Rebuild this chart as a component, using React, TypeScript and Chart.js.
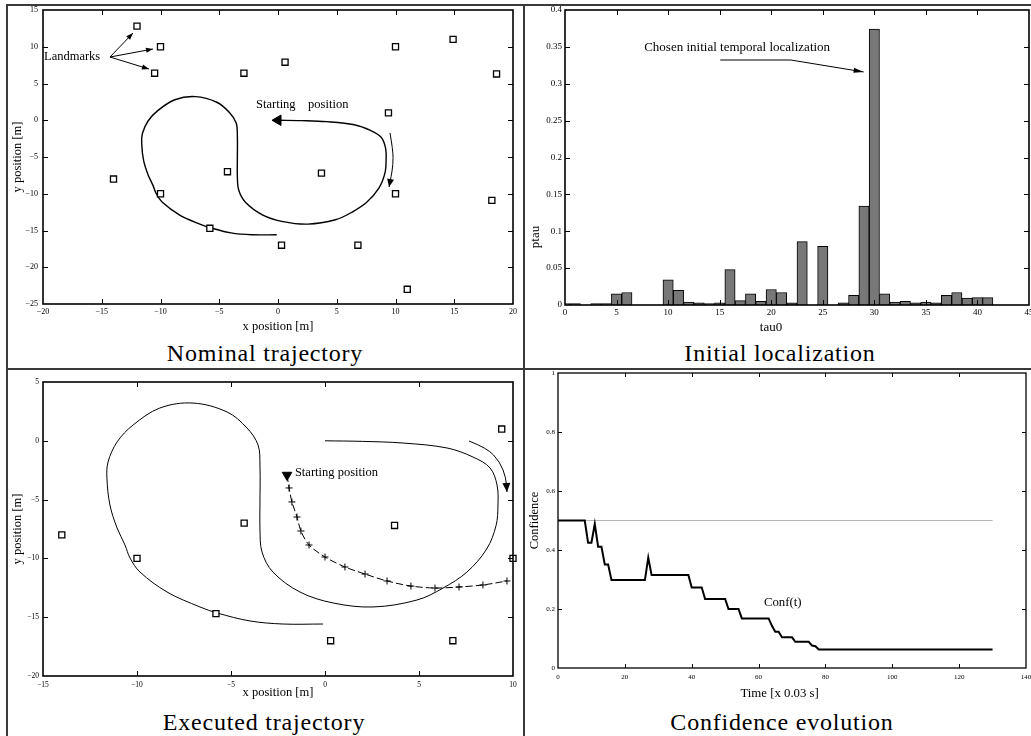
import React, { useEffect, useRef } from 'react';
import { Chart, registerables } from 'chart.js';

Chart.register(...registerables);

const SERIF = '"Liberation Serif", "Times New Roman", serif';

// ---------------- data ----------------
// Landmarks shared by the nominal / executed trajectory plots [m]
const landmarkX = [-12, -10, -10.5, -2.9, 0.6, 10, 14.9, 18.6, 9.4, -14, -10, -4.3, 3.7, 10, 18.2, -5.8, 0.3, 6.8, 11];
const landmarkY = [12.8, 10, 6.4, 6.4, 7.9, 10, 11, 6.3, 1, -8, -10, -7, -7.2, -10, -10.9, -14.7, -17, -17, -23];

// Nominal trajectory [m]
const nominalX = [0, 2, 4.15, 6.49, 7.87, 8.78, 9.15, 9.2, 9.1, 8.6, 7.55, 6.28, 4.89, 2.55, 0.43, -1.33, -2.77, -3.35, -3.46, -3.46, -3.46, -3.56, -4.15, -5.21, -7.02, -8.78, -10.21, -11.06, -11.54, -11.6, -11.44, -11.06, -10.64, -10.37, -9.84, -8.4, -6.65, -5.74, -3.99, -2.23, -0.11];
const nominalY = [0, -0.05, -0.19, -0.61, -1.38, -2.31, -3.76, -5.46, -7.2, -9.2, -11.16, -12.52, -13.54, -14.13, -13.79, -12.86, -11.16, -9.46, -7.5, -5.46, -2.06, -0.36, 1.09, 2.45, 3.21, 2.79, 1.34, -0.1, -1.8, -3.16, -5.46, -7.41, -8.86, -9.97, -11.16, -12.86, -14.13, -14.64, -15.32, -15.58, -15.58];

// Executed trajectory [m] (first point = starting position)
const executedX = [-2.02, -1.91, -1.76, -1.49, -1.28, -0.85, 0, 1.06, 2.13, 3.3, 4.57, 5.85, 7.13, 8.4, 9.68];
const executedY = [-2.91, -4.01, -5.2, -6.48, -7.67, -8.86, -9.88, -10.73, -11.33, -11.92, -12.35, -12.52, -12.43, -12.26, -11.92];

// Initial localization histogram
const tau0 = [0, 1, 2, 3, 4, 5, 6, 7, 8, 9, 10, 11, 12, 13, 14, 15, 16, 17, 18, 19, 20, 21, 22, 23, 24, 25, 26, 27, 28, 29, 30, 31, 32, 33, 34, 35, 36, 37, 38, 39, 40, 41];
const ptau = [0.002, 0.002, 0, 0.002, 0.002, 0.015, 0.017, 0, 0, 0, 0.034, 0.02, 0.004, 0.003, 0.002, 0.003, 0.048, 0.006, 0.015, 0.005, 0.021, 0.017, 0.003, 0.086, 0, 0.0795, 0, 0.003, 0.013, 0.134, 0.374, 0.0153, 0.004, 0.005, 0.003, 0.004, 0.003, 0.013, 0.017, 0.0095, 0.01, 0.01];

// Confidence evolution
const confTime = [0, 8, 9, 10, 11, 12, 13, 14, 15, 16, 26, 27, 28, 39, 40, 43, 44, 50, 51, 54, 55, 63, 64, 65, 66, 67, 70, 71, 75, 76, 77, 78, 130];
const confValue = [0.5, 0.5, 0.425, 0.425, 0.488, 0.411, 0.411, 0.351, 0.351, 0.298, 0.298, 0.374, 0.315, 0.315, 0.273, 0.273, 0.234, 0.234, 0.2, 0.2, 0.168, 0.168, 0.143, 0.123, 0.123, 0.104, 0.104, 0.089, 0.089, 0.076, 0.074, 0.063, 0.063];
const thresholdTime = [0, 130];
const thresholdValue = [0.5, 0.5];

// ---------------- helpers ----------------
type Pt = [number, number];
const pts = (xs: number[], ys: number[]) => xs.map((x, i) => ({ x, y: ys[i] }));
const minus = (v: any) => {
  const n = Number(v);
  return n < 0 ? '\u2212' + Math.abs(n) : String(n);
};
const dec = (v: any) => String(Math.round(Number(v) * 1000) / 1000);

function smoothPath(ctx: CanvasRenderingContext2D, p: Pt[]) {
  ctx.beginPath();
  ctx.moveTo(p[0][0], p[0][1]);
  for (let i = 1; i < p.length - 1; i++) {
    const mx = (p[i][0] + p[i + 1][0]) / 2;
    const my = (p[i][1] + p[i + 1][1]) / 2;
    ctx.quadraticCurveTo(p[i][0], p[i][1], mx, my);
  }
  const l = p[p.length - 1];
  ctx.lineTo(l[0], l[1]);
  ctx.stroke();
}

function arrowHead(ctx: CanvasRenderingContext2D, from: Pt, to: Pt, len: number, half: number) {
  const a = Math.atan2(to[1] - from[1], to[0] - from[0]);
  const bx = to[0] - len * Math.cos(a);
  const by = to[1] - len * Math.sin(a);
  const nx = -Math.sin(a) * half;
  const ny = Math.cos(a) * half;
  ctx.beginPath();
  ctx.moveTo(to[0], to[1]);
  ctx.lineTo(bx + nx, by + ny);
  ctx.lineTo(bx - nx, by - ny);
  ctx.closePath();
  ctx.fill();
}

const framePlugin = (tickLen: number, lw: number) => ({
  id: 'frameTicks',
  afterDatasetsDraw(chart: any) {
    const { ctx, chartArea: a } = chart;
    const xs = chart.scales.x;
    const ys = chart.scales.y;
    ctx.save();
    ctx.strokeStyle = '#000';
    ctx.lineWidth = 1;
    ctx.beginPath();
    for (const t of xs.ticks) {
      const p = Math.round(xs.getPixelForValue(t.value)) + 0.5;
      if (p < a.left + 2 || p > a.right - 2) continue;
      ctx.moveTo(p, a.bottom);
      ctx.lineTo(p, a.bottom - tickLen);
      ctx.moveTo(p, a.top);
      ctx.lineTo(p, a.top + tickLen);
    }
    for (const t of ys.ticks) {
      const p = Math.round(ys.getPixelForValue(t.value)) + 0.5;
      if (p < a.top + 2 || p > a.bottom - 2) continue;
      ctx.moveTo(a.left, p);
      ctx.lineTo(a.left + tickLen, p);
      ctx.moveTo(a.right, p);
      ctx.lineTo(a.right - tickLen, p);
    }
    ctx.stroke();
    ctx.lineWidth = lw;
    ctx.strokeRect(a.left, a.top, a.right - a.left, a.bottom - a.top);
    ctx.restore();
  },
});

const notesPlugin = (size: number, draw: (ctx: CanvasRenderingContext2D, P: (x: number, y: number) => Pt) => void) => ({
  id: 'notes',
  afterDraw(chart: any) {
    const ctx = chart.ctx as CanvasRenderingContext2D;
    const P = (x: number, y: number): Pt => [chart.scales.x.getPixelForValue(x), chart.scales.y.getPixelForValue(y)];
    ctx.save();
    ctx.fillStyle = '#000';
    ctx.strokeStyle = '#000';
    ctx.lineWidth = 1;
    ctx.font = `${size}px ${SERIF}`;
    ctx.textBaseline = 'middle';
    ctx.textAlign = 'left';
    draw(ctx, P);
    ctx.restore();
  },
});

function scale(min: number, max: number, step: number, size: number, pad: number, fmt: any, fit: (s: any) => void, title?: any) {
  const s: any = {
    type: 'linear',
    min,
    max,
    offset: false,
    ticks: { stepSize: step, font: { family: SERIF, size }, color: '#000', padding: pad, callback: fmt, autoSkip: false, maxRotation: 0, minRotation: 0 },
    grid: { display: false, drawTicks: false, offset: false },
    border: { display: false },
    afterFit: fit,
  };
  if (title) s.title = title;
  return s;
}

const baseOptions = (padding: any) => ({
  responsive: false,
  animation: false as const,
  devicePixelRatio: 1,
  events: [] as any[],
  layout: { padding, autoPadding: false },
  plugins: { legend: { display: false }, tooltip: { enabled: false } },
});

const landmarkSets = () => [
  {
    data: pts(landmarkX, landmarkY),
    pointStyle: 'rect',
    pointRadius: 4.3,
    backgroundColor: '#fff',
    borderColor: '#000',
    pointBackgroundColor: '#fff',
    pointBorderColor: '#000',
    pointBorderWidth: 1.3,
    showLine: false,
    clip: 6,
  },
  {
    data: pts(landmarkX, landmarkY),
    pointStyle: 'circle',
    pointRadius: 0.8,
    backgroundColor: '#000',
    borderColor: '#000',
    pointBackgroundColor: '#000',
    pointBorderWidth: 0,
    showLine: false,
    clip: 6,
  },
];

// ---------------- charts ----------------
function makeNominal(el: HTMLCanvasElement) {
  return new Chart(el, {
    type: 'scatter',
    data: {
      datasets: [
        {
          data: [{ x: nominalX[0], y: nominalY[0] }],
          pointStyle: 'triangle',
          pointRotation: 270,
          pointRadius: 6,
          backgroundColor: '#000',
          borderColor: '#000',
          pointBackgroundColor: '#000',
          showLine: false,
          clip: 10,
        } as any,
        ...landmarkSets(),
        {
          data: pts(nominalX, nominalY),
          showLine: true,
          borderColor: '#000',
          borderWidth: 1.4,
          pointRadius: 0,
          tension: 0.35,
          fill: false,
        },
      ],
    },
    options: {
      ...baseOptions({ top: 10, right: 9, left: 0, bottom: 0 }),
      scales: {
        x: scale(-20, 20, 5, 8, 3, minus, (s) => { s.height = 36; s.paddingLeft = 0; s.paddingRight = 0; },
          { display: true, text: 'x position [m]', color: '#000', font: { family: SERIF, size: 12.5 }, padding: { top: 0, bottom: 5.5 } }),
        y: scale(-25, 15, 5, 8, 5, minus, (s) => { s.width = 43; s.paddingTop = 0; s.paddingBottom = 0; },
          { display: true, text: 'y position [m]', color: '#000', font: { family: SERIF, size: 12.5 }, padding: { top: 10.5, bottom: 0 } }),
      },
    } as any,
    plugins: [
      framePlugin(5, 1.6),
      notesPlugin(12.5, (ctx, P) => {
        const lp = P(-20, 8.6);
        ctx.fillText('Landmarks', lp[0] + 1, lp[1]);
        const o = P(-14.3, 8.6);
        const tips: Pt[] = [[-12.34, 11.87], [-10.64, 9.69], [-10.98, 6.97]];
        for (const tp of tips) {
          const t = P(tp[0], tp[1]);
          ctx.beginPath();
          ctx.moveTo(o[0], o[1]);
          ctx.lineTo(t[0], t[1]);
          ctx.stroke();
          arrowHead(ctx, o, t, 7, 2.6);
        }
        const s = P(-1.87, 2.07);
        ctx.fillText('Starting    position', s[0], s[1]);
        const curve = ([[9.53, -1.73], [9.79, -4.05], [9.79, -6.09], [9.62, -7.72], [9.45, -9.08]] as Pt[]).map((p) => P(p[0], p[1]));
        smoothPath(ctx, curve);
        arrowHead(ctx, curve[3], curve[4], 8, 3.5);
      }),
    ],
  });
}

function makeLocalization(el: HTMLCanvasElement) {
  return new Chart(el, {
    type: 'bar',
    data: {
      datasets: [
        {
          data: pts(tau0, ptau),
          backgroundColor: '#787878',
          borderColor: '#000',
          borderWidth: 1,
          barPercentage: 1,
          categoryPercentage: 1,
        } as any,
      ],
    },
    options: {
      ...baseOptions({ top: 10, right: 2, left: 0, bottom: 0 }),
      scales: {
        x: scale(0, 45, 5, 9, 2.5, (v: any) => String(v), (s) => { s.height = 35; s.paddingLeft = 0; s.paddingRight = 0; }),
        y: scale(0, 0.4, 0.05, 9, 3, dec, (s) => { s.width = 43; s.paddingTop = 0; s.paddingBottom = 0; }),
      },
    } as any,
    plugins: [
      framePlugin(5, 1.6),
      notesPlugin(13, (ctx, P) => {
        const t = P(7.68, 0.3485);
        ctx.fillText('Chosen initial temporal localization', t[0], t[1]);
        const line = ([[15.06, 0.3322], [21.9, 0.3322], [28.96, 0.316]] as Pt[]).map((p) => P(p[0], p[1]));
        ctx.beginPath();
        ctx.moveTo(line[0][0], line[0][1]);
        ctx.lineTo(line[1][0], line[1][1]);
        ctx.lineTo(line[2][0], line[2][1]);
        ctx.stroke();
        arrowHead(ctx, line[1], line[2], 10, 2.5);
        ctx.textAlign = 'center';
        ctx.fillText('tau0', 249, 328);
        ctx.save();
        ctx.translate(14, 237);
        ctx.rotate(-Math.PI / 2);
        ctx.fillText('ptau', 0, 0);
        ctx.restore();
      }),
    ],
  });
}

function makeExecuted(el: HTMLCanvasElement) {
  return new Chart(el, {
    type: 'scatter',
    data: {
      datasets: [
        {
          data: [{ x: executedX[0], y: executedY[0] }],
          pointStyle: 'triangle',
          pointRotation: 180,
          pointRadius: 5.5,
          backgroundColor: '#000',
          borderColor: '#000',
          pointBackgroundColor: '#000',
          showLine: false,
          clip: 10,
        } as any,
        ...landmarkSets(),
        {
          data: pts(executedX, executedY),
          showLine: true,
          borderColor: '#000',
          borderWidth: 1,
          borderDash: [7, 3],
          tension: 0.3,
          pointStyle: 'cross',
          pointRadius: (c: any) => (c.dataIndex === 0 ? 0 : 3.5),
          pointBorderColor: '#000',
          pointBorderWidth: 1,
          fill: false,
        },
        {
          data: pts(nominalX, nominalY),
          showLine: true,
          borderColor: '#000',
          borderWidth: 1,
          pointRadius: 0,
          tension: 0.35,
          fill: false,
        },
      ],
    },
    options: {
      ...baseOptions({ top: 13, right: 9, left: 0, bottom: 0 }),
      scales: {
        x: scale(-15, 10, 5, 7.5, 4.5, minus, (s) => { s.height = 33; s.paddingLeft = 0; s.paddingRight = 0; },
          { display: true, text: 'x position [m]', color: '#000', font: { family: SERIF, size: 12.5 }, padding: { top: 0, bottom: 8.5 } }),
        y: scale(-20, 5, 5, 7.5, 4, minus, (s) => { s.width = 43; s.paddingTop = 0; s.paddingBottom = 0; },
          { display: true, text: 'y position [m]', color: '#000', font: { family: SERIF, size: 12.5 }, padding: { top: 10.5, bottom: 0 } }),
      },
    } as any,
    plugins: [
      framePlugin(5, 1.6),
      notesPlugin(12.5, (ctx, P) => {
        const s = P(-1.6, -2.74);
        ctx.fillText('Starting position', s[0], s[1]);
        const curve = ([[7.66, -0.02], [8.62, -0.61], [9.31, -1.8], [9.63, -3.16], [9.68, -4.35]] as Pt[]).map((p) => P(p[0], p[1]));
        smoothPath(ctx, curve);
        arrowHead(ctx, curve[3], curve[4], 9, 4);
      }),
    ],
  });
}

function makeConfidence(el: HTMLCanvasElement) {
  return new Chart(el, {
    type: 'line',
    data: {
      datasets: [
        {
          data: pts(confTime, confValue),
          borderColor: '#000',
          borderWidth: 2,
          pointRadius: 0,
          tension: 0,
          fill: false,
        },
        {
          data: pts(thresholdTime, thresholdValue),
          borderColor: '#b4b4b4',
          borderWidth: 1,
          pointRadius: 0,
          tension: 0,
          fill: false,
        },
      ],
    },
    options: {
      ...baseOptions({ top: 4, right: 5, left: 0, bottom: 0 }),
      scales: {
        x: scale(0, 140, 20, 7, 4.5, (v: any) => String(v), (s) => { s.height = 41; s.paddingLeft = 0; s.paddingRight = 0; }),
        y: scale(0, 1, 0.2, 7, 3, dec, (s) => { s.width = 36; s.paddingTop = 0; s.paddingBottom = 0; },
          { display: true, text: 'Confidence', color: '#000', font: { family: SERIF, size: 12.5 }, padding: { top: 5.5, bottom: 0 } }),
      },
    } as any,
    plugins: [
      framePlugin(4, 1.3),
      notesPlugin(12.8, (ctx, P) => {
        const c = P(61.6, 0.22);
        ctx.fillText('Conf(t)', c[0], c[1]);
        ctx.textAlign = 'center';
        ctx.fillText('Time [x 0.03 s]', 257.6, 325);
      }),
    ],
  });
}

// ---------------- component ----------------
const line = (left: number, top: number, width: number, height: number): React.CSSProperties => ({
  position: 'absolute', left, top, width, height, background: '#3a3a3a',
});

const titleStyle = (cx: number, baseline: number): React.CSSProperties => ({
  position: 'absolute',
  left: cx - 200,
  top: baseline - 20.1,
  width: 400,
  textAlign: 'center',
  fontFamily: SERIF,
  fontSize: 24,
  lineHeight: '24px',
  letterSpacing: '0.8px',
  color: '#000',
  whiteSpace: 'nowrap',
});

export default function App() {
  const r1 = useRef<HTMLCanvasElement>(null);
  const r2 = useRef<HTMLCanvasElement>(null);
  const r3 = useRef<HTMLCanvasElement>(null);
  const r4 = useRef<HTMLCanvasElement>(null);

  useEffect(() => {
    const charts = [
      makeNominal(r1.current!),
      makeLocalization(r2.current!),
      makeExecuted(r3.current!),
      makeConfidence(r4.current!),
    ];
    return () => charts.forEach((c) => c.destroy());
  }, []);

  return (
    <div style={{ position: 'absolute', left: 0, top: 0, width: 1031, height: 736, background: '#fff', overflow: 'hidden' }}>
      <canvas ref={r1} width={522} height={340} style={{ position: 'absolute', left: 0, top: 0 }} />
      <canvas ref={r2} width={509} height={340} style={{ position: 'absolute', left: 522, top: 0 }} />
      <canvas ref={r3} width={522} height={340} style={{ position: 'absolute', left: 0, top: 369 }} />
      <canvas ref={r4} width={509} height={340} style={{ position: 'absolute', left: 522, top: 369 }} />

      <div style={line(6, 4, 1025, 2)} />
      <div style={line(6, 4, 2, 732)} />
      <div style={line(523, 4, 2, 732)} />
      <div style={line(6, 368, 1025, 2)} />

      <div style={titleStyle(265, 361)}>Nominal trajectory</div>
      <div style={titleStyle(780, 361)}>Initial localization</div>
      <div style={titleStyle(264, 730)}>Executed trajectory</div>
      <div style={titleStyle(782, 730)}>Confidence evolution</div>
    </div>
  );
}
